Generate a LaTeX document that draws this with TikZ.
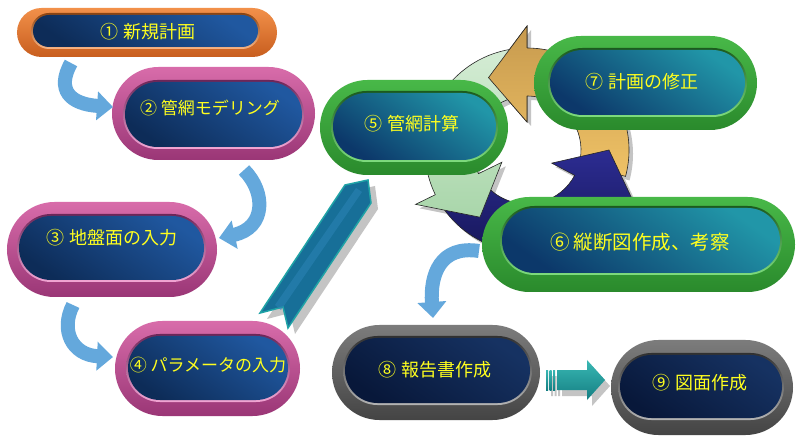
\documentclass[tikz,border=0pt]{standalone}
\usepackage{fontspec}
\newfontfamily\jp{Noto Sans CJK JP}
\usetikzlibrary{shapes.misc,arrows.meta}
\definecolor{pinkT}{HTML}{D86CAA}
\definecolor{pinkB}{HTML}{9A3676}
\definecolor{pinkRT}{HTML}{6C2658}
\definecolor{pinkRB}{HTML}{F2A6D4}
\definecolor{greenT}{HTML}{48B848}
\definecolor{greenB}{HTML}{2A8A2C}
\definecolor{greenRT}{HTML}{1C5A1E}
\definecolor{greenRB}{HTML}{7EDC7E}
\definecolor{grayT}{HTML}{7C7C7C}
\definecolor{grayB}{HTML}{444444}
\definecolor{grayRT}{HTML}{303030}
\definecolor{grayRB}{HTML}{B4B4B4}
\definecolor{orangeT}{HTML}{F2904A}
\definecolor{orangeB}{HTML}{C85E1E}
\definecolor{orangeRT}{HTML}{8A4412}
\definecolor{orangeRB}{HTML}{F8B484}
\definecolor{blueT}{HTML}{2058A0}
\definecolor{blueB}{HTML}{0D2C58}
\definecolor{tealT}{HTML}{2196A8}
\definecolor{tealB}{HTML}{0C386A}
\definecolor{navyT}{HTML}{163262}
\definecolor{navyB}{HTML}{08183A}
\definecolor{txt}{HTML}{FFFF1E}
\definecolor{lblue}{HTML}{64A8DC}
\definecolor{lblueL}{HTML}{8EC6EE}
\definecolor{shadowgray}{HTML}{C4C4C4}
\definecolor{bandfill}{HTML}{176F98}
\definecolor{bandmid}{HTML}{2A82B4}
\definecolor{bandline}{HTML}{1FA3A6}
\definecolor{goldT}{HTML}{C79A4E}
\definecolor{goldB}{HTML}{EFC266}
\definecolor{mintT}{HTML}{D4ECD4}
\definecolor{mintB}{HTML}{A9D6AA}
\definecolor{indT}{HTML}{2C2C92}
\definecolor{indB}{HTML}{141452}
\definecolor{aquaT}{HTML}{3AB8B4}
\definecolor{aquaB}{HTML}{137E82}
\newcommand\pill[9]{%
  \node[rounded rectangle,minimum width=#5bp,minimum height=#6bp,inner sep=0pt,#2rim] (#1) at (#3,#4) {};
  \node[rounded rectangle,minimum width=#8bp+4bp,minimum height=#9bp+4bp,inner sep=0pt,#2ring] (#1r) at (#7) {};
  \node[rounded rectangle,minimum width=#8bp,minimum height=#9bp,inner sep=0pt,#2body] (#1b) at (#7) {};
}
\newcommand\cycpath[3]{(#1:102) arc[start angle=#1, end angle=#2, radius=102bp] -- (#2:124) -- (#3:82) -- (#2:28) -- (#2:54) arc[start angle=#2, end angle=#1, radius=54bp] -- cycle}
\begin{document}
\begin{tikzpicture}[x=1bp,y=1bp,
  pinkrim/.style={top color=pinkT,bottom color=pinkB},
  pinkring/.style={top color=pinkRT,bottom color=pinkRB},
  pinkbody/.style={top color=blueT,bottom color=blueB,shading angle=-35},
  orangerim/.style={top color=orangeT,bottom color=orangeB},
  orangering/.style={top color=orangeRT,bottom color=orangeRB},
  orangebody/.style={top color=blueT,bottom color=blueB,shading angle=-35},
  greenrim/.style={top color=greenT,bottom color=greenB},
  greenring/.style={top color=greenRT,bottom color=greenRB},
  greenbody/.style={top color=tealT,bottom color=tealB,shading angle=-35},
  grayrim/.style={top color=grayT,bottom color=grayB},
  grayring/.style={top color=grayRT,bottom color=grayRB},
  graybody/.style={top color=navyT,bottom color=navyB,shading angle=-35},
  lbl/.style={text=txt,inner sep=0pt,font=\jp\fontsize{18bp}{20bp}\selectfont},
  lblsmall/.style={lbl,font=\jp\fontsize{17bp}{19bp}\selectfont},
  lblbig/.style={lbl,font=\jp\fontsize{19.5bp}{21bp}\selectfont},
  lbarrow/.style={draw=lblue,line width=14bp,-{Triangle[length=16bp,width=28bp]}},
  cycline/.style={draw=black!85,line width=0.6bp},
  cycshadow/.style={fill=shadowgray},
  goldfill/.style={top color=goldT,bottom color=goldB},
  greenfill/.style={top color=mintT,bottom color=mintB},
  navyfill/.style={top color=indT,bottom color=indB},
  tealarrow/.style={top color=aquaT,bottom color=aquaB},
]
\useasboundingbox (0,0) rectangle (800,-441);
\fill[white] (0,0) rectangle (800,-441);

% cycle of three arrows
\begin{scope}[shift={(527,-150)}]
  \foreach \a/\b/\t in {-15/90/118,100/206/235,215/332/360}
    \fill[cycshadow,shift={(4,-4)}] \cycpath{\a}{\b}{\t};
  \path[goldfill,cycline] \cycpath{-15}{90}{118};
  \path[navyfill,cycline] \cycpath{215}{332}{360};
  \path[greenfill,cycline] \cycpath{100}{206}{235};
  \begin{scope}
    \clip (90:124) -- (118:82) -- (90:28) -- cycle;
    \path[goldfill] \cycpath{-15}{90}{118};
  \end{scope}
  \draw[cycline] (90:102) -- (90:124) -- (118:82) -- (90:28) -- (90:54);
\end{scope}

% nodes
\pill{n1}{orange}{147}{-32.5}{260}{49}{145.5,-31}{225}{32}
\pill{n2}{pink}{213.5}{-113.5}{203}{93}{213.5,-114.5}{177}{65}
\pill{n3}{pink}{112}{-249.5}{210}{95}{111.5,-248}{185}{64}
\pill{n4}{pink}{207.5}{-368.5}{185}{95}{208,-368}{160}{64}
\pill{n5}{green}{414}{-127.5}{188}{95}{414.5,-126.5}{163}{67}
\pill{n7}{green}{645.5}{-83}{223}{94}{647.5,-82.5}{195}{65}
\pill{n6}{green}{638.5}{-244.5}{313}{95}{641,-240.5}{278}{65}
\pill{n8}{gray}{436}{-372.5}{208}{95}{437.5,-370.5}{185}{65}
\pill{n9}{gray}{702}{-387.5}{182}{95}{701,-386.5}{162}{63}

\node[lbl] (t1) at (148,-32) {① 新規計画};
\node[lblsmall] (t2) at (210,-108) {② 管網モデリング};
\node[lbl] (t3) at (112,-238) {③ 地盤面の入力};
\node[lblsmall] (t4) at (208,-365) {④ パラメータの入力};
\node[lbl] (t5) at (412,-124) {⑤ 管網計算};
\node[lbl] (t7) at (642,-82) {⑦ 計画の修正};
\node[lblbig] (t6) at (640,-242) {⑥ 縦断図作成、考察};
\node[lbl] (t8) at (435,-370) {⑧ 報告書作成};
\node[lbl] (t9) at (700,-383) {⑨ 図面作成};

% light blue curved arrows
\draw[lbarrow] (71,-63) .. controls (56,-90) and (70,-104) .. (113,-107);
\draw[lbarrow] (244,-170) .. controls (266,-192) and (266,-228) .. (219,-238);
\draw[lbarrow] (73,-305) .. controls (60,-330) and (72,-355) .. (113,-357);
\draw[lbarrow] (479,-251) .. controls (440,-245) and (430,-275) .. (433,-318);

% big band arrow 4 -> 5
\fill[shadowgray,shift={(7,-6)}] (260,-313) -- (345,-185) -- (368,-180) -- (371,-203) -- (288,-328) -- (283,-307) -- cycle;
\path[fill=bandfill,draw=bandline,line width=1.5bp,line join=miter] (260,-313) -- (345,-185) -- (368,-180) -- (371,-203) -- (288,-328) -- (283,-307) -- cycle;
\fill[bandmid,opacity=0.6] (275,-305) -- (356,-188) -- (362,-192) -- (281,-310) -- cycle;

% fat arrow 8 -> 9
\begin{scope}[shift={(5,-6)}]
  \fill[shadowgray] (557,-370) -- (587,-370) -- (587,-360) -- (605,-380) -- (587,-400) -- (587,-390) -- (557,-390) -- cycle;
  \fill[shadowgray] (546,-370) rectangle (548,-390) (549.5,-370) rectangle (551.5,-390) (553,-370) rectangle (555,-390);
\end{scope}
\path[tealarrow] (557,-370) -- (587,-370) -- (587,-360) -- (605,-380) -- (587,-400) -- (587,-390) -- (557,-390) -- cycle;
\path[tealarrow] (546,-370) rectangle (548,-390);
\path[tealarrow] (549.5,-370) rectangle (551.5,-390);
\path[tealarrow] (553,-370) rectangle (555,-390);
\end{tikzpicture}
\end{document}
